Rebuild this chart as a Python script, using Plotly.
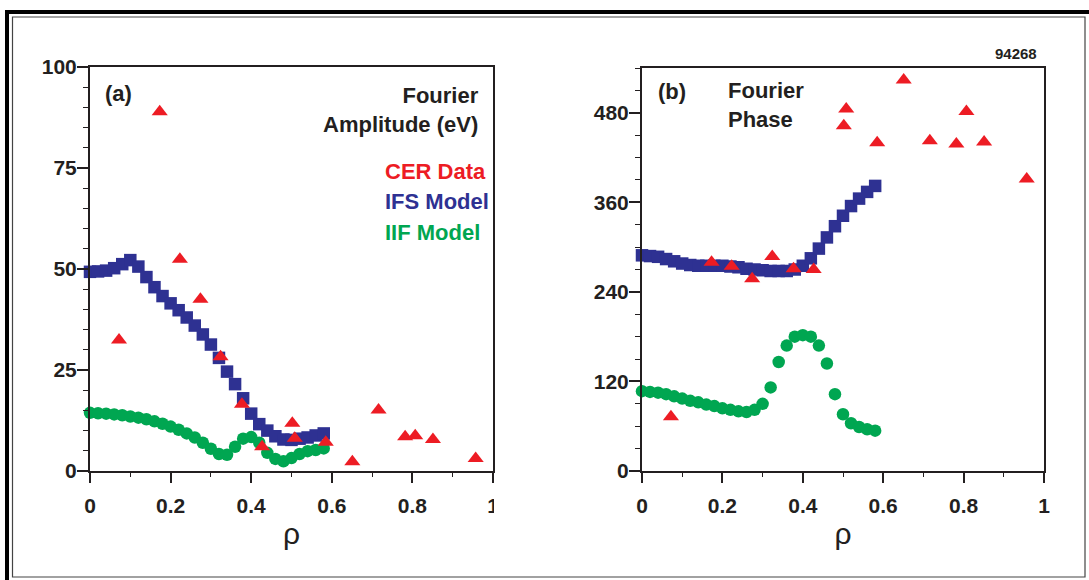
import plotly.graph_objects as go

W, H = 1089, 580
INK = "#231F20"
RED = "#ED1C24"
BLUE = "#2E3192"
GREEN = "#00A651"
SANS = "Liberation Sans, Arial, Helvetica, sans-serif"

# CER measurements at their radial positions
cer_rho = [0.072, 0.173, 0.223, 0.274, 0.324, 0.377, 0.427, 0.502,
           0.508, 0.585, 0.651, 0.716, 0.782, 0.807, 0.851, 0.957]
cer_amp = [32.4, 88.9, 52.4, 42.5, 28.3, 16.5, 6.0, 11.8,
           8.1, 7.1, 2.3, 15.1, 8.5, 8.7, 7.8, 3.1]
cer_phase = [72.6, 279.8, 274.5, 257.6, 287.4, 271.0, 270.0, 462.6,
             484.9, 440.0, 524.0, 442.5, 438.0, 481.7, 441.0, 391.3]

# model radial grid
model_rho = [0.00, 0.02, 0.04, 0.06, 0.08, 0.10, 0.12, 0.14, 0.16, 0.18,
             0.20, 0.22, 0.24, 0.26, 0.28, 0.30, 0.32, 0.34, 0.36, 0.38,
             0.40, 0.42, 0.44, 0.46, 0.48, 0.50, 0.52, 0.54, 0.56, 0.58]

ifs_amp = [49.3, 49.4, 49.6, 50.2, 51.2, 52.2, 50.6, 48.0, 45.5, 43.3,
           41.5, 39.8, 38.0, 36.0, 33.8, 31.3, 28.0, 24.6, 21.5, 18.0,
           14.2, 11.6, 10.0, 8.6, 7.8, 7.7, 8.0, 8.3, 8.8, 9.3]
iif_amp = [14.4, 14.3, 14.2, 14.0, 13.8, 13.5, 13.2, 12.8, 12.3, 11.7,
           11.0, 10.2, 9.3, 8.3, 7.0, 5.5, 4.2, 4.0, 6.0, 8.0,
           8.4, 7.0, 4.5, 3.0, 2.4, 3.2, 4.2, 4.9, 5.2, 5.6]

ifs_phase = [289, 288, 287, 284, 281, 278, 276, 275, 275, 275,
             275, 274, 273, 271, 270, 269, 268, 268, 268, 270,
             275, 285, 298, 313, 328, 342, 355, 365, 374, 382]
iif_phase = [107, 106, 105, 103, 100, 97, 94, 92, 89, 87,
             84, 82, 80, 79, 82, 90, 112, 146, 168, 180,
             182, 180, 168, 144, 103, 76, 64, 59, 56, 54]

x_ticks = [0, 0.2, 0.4, 0.6, 0.8, 1.0]
x_ticktext = ["0", "0.2", "0.4", "0.6", "0.8", "1"]
amp_ticks = [0, 25, 50, 75, 100]
phase_ticks = [0, 120, 240, 360, 480]


def px(x):
    return x / W


def py(y):
    return 1 - y / H


fig = go.Figure()


def add_panel(xa, ya, ifs, iif, cer):
    fig.add_trace(go.Scatter(x=model_rho, y=ifs, mode="markers", xaxis=xa, yaxis=ya,
                             marker=dict(symbol="square", size=12.5, color=BLUE),
                             cliponaxis=False, showlegend=False, name="IFS Model"))
    fig.add_trace(go.Scatter(x=model_rho, y=iif, mode="markers", xaxis=xa, yaxis=ya,
                             marker=dict(symbol="circle", size=12.5, color=GREEN),
                             cliponaxis=False, showlegend=False, name="IIF Model"))
    fig.add_trace(go.Scatter(x=cer_rho, y=cer, mode="markers", xaxis=xa, yaxis=ya,
                             marker=dict(symbol="triangle-up", size=14, color=RED),
                             cliponaxis=False, showlegend=False, name="CER Data"))


add_panel("x", "y", ifs_amp, iif_amp, cer_amp)
add_panel("x2", "y2", ifs_phase, iif_phase, cer_phase)

axis_style = dict(showline=True, linewidth=2, linecolor=INK, mirror=True,
                  ticks="outside", tickcolor=INK, tickwidth=1.5,
                  showgrid=False, zeroline=False, automargin=False,
                  tickfont=dict(family=SANS, size=21, color=INK, weight="bold"))

x_style = dict(axis_style, range=[0, 1], tickvals=x_ticks, ticktext=x_ticktext,
               ticklen=10, ticklabelstandoff=5,
               minor=dict(dtick=0.1, ticklen=4, ticks="outside", tickcolor=INK, tickwidth=1),
               title=dict(text="ρ", font=dict(family=SANS, size=30, color=INK), standoff=7))

y_style = dict(axis_style, ticklen=11, ticklabelstandoff=-4)

fig.update_layout(
    width=W, height=H,
    margin=dict(l=0, r=0, t=0, b=0, autoexpand=False),
    paper_bgcolor="white", plot_bgcolor="white",
    xaxis=dict(x_style, domain=[px(90), px(493)], anchor="y"),
    yaxis=dict(y_style, domain=[py(471), py(67)], range=[0, 100], tickvals=amp_ticks,
               minor=dict(dtick=5, ticklen=5, ticks="outside", tickcolor=INK, tickwidth=1),
               anchor="x"),
    xaxis2=dict(x_style, domain=[px(642), px(1044)], anchor="y2"),
    yaxis2=dict(y_style, domain=[py(471), py(68)], range=[0, 540], tickvals=phase_ticks,
                minor=dict(dtick=30, ticklen=5, ticks="outside", tickcolor=INK, tickwidth=1),
                anchor="x2"),
)

label_font = dict(family=SANS, size=22, weight="bold")
annotations = [
    dict(text="(a)", x=px(118), y=py(93), xanchor="center", yanchor="middle",
         font=dict(label_font, color=INK)),
    dict(text="Fourier<br>Amplitude (eV)", x=px(481), y=py(110), xanchor="right",
         yanchor="middle", align="right", font=dict(label_font, color=INK)),
    dict(text="CER Data", x=px(383), y=py(172), xanchor="left", yanchor="middle",
         font=dict(label_font, color=RED)),
    dict(text="IFS Model", x=px(383), y=py(202), xanchor="left", yanchor="middle",
         font=dict(label_font, color=BLUE)),
    dict(text="IIF Model", x=px(383), y=py(232), xanchor="left", yanchor="middle",
         font=dict(label_font, color=GREEN)),
    dict(text="(b)", x=px(672), y=py(92), xanchor="center", yanchor="middle",
         font=dict(label_font, color=INK)),
    dict(text="Fourier<br>Phase", x=px(726), y=py(105), xanchor="left",
         yanchor="middle", align="left", font=dict(label_font, color=INK)),
    dict(text="94268", x=px(1039), y=py(54), xanchor="right", yanchor="middle",
         font=dict(family=SANS, size=15, weight="bold", color=INK)),
]
for a in annotations:
    a.update(xref="paper", yref="paper", showarrow=False)
fig.update_layout(annotations=annotations)

# page frame: heavy outer rule on top/left, thin inner rule all round
shapes = [
    dict(type="line", x0=px(7), x1=px(7), y0=py(10), y1=py(580), line=dict(color="black", width=4)),
    dict(type="line", x0=px(5), x1=px(1089), y0=py(12), y1=py(12), line=dict(color="black", width=4)),
    dict(type="rect", x0=px(12.5), x1=px(1085), y0=py(577), y1=py(17),
         line=dict(color="#444444", width=1.2)),
    # trim of the last tick label in panel (a)
    dict(type="rect", x0=px(494), x1=px(520), y0=py(530), y1=py(485), fillcolor="white",
         line=dict(width=0), layer="above"),
]
for s in shapes:
    s.update(xref="paper", yref="paper")
fig.update_layout(shapes=shapes)

fig.write_html("out.html",
               post_script="document.body.style.margin='0';document.body.style.overflow='hidden';")
